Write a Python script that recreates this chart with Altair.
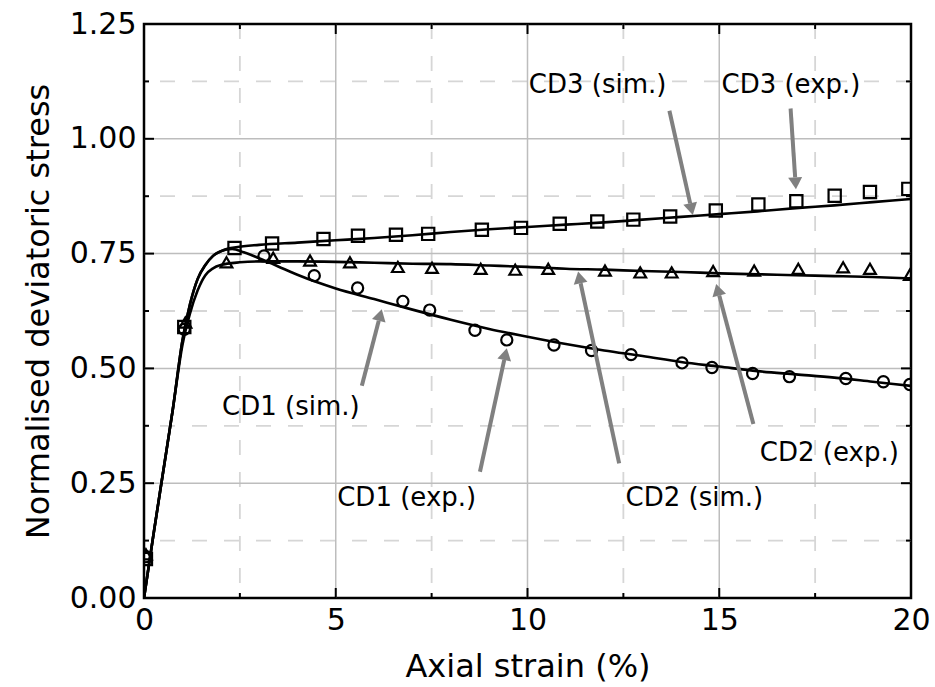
import math
import altair as alt
import pandas as pd

# ---------------- data ----------------
cd1_exp_x = [0.05, 1.05, 3.13, 4.44, 5.57, 6.75, 7.45, 8.63, 9.46, 10.69, 11.67, 12.70,
             14.03, 14.81, 15.87, 16.83, 18.30, 19.28, 19.97]
cd1_exp_y = [0.090, 0.585, 0.745, 0.702, 0.675, 0.646, 0.627, 0.583, 0.562, 0.551, 0.539,
             0.530, 0.512, 0.502, 0.489, 0.482, 0.478, 0.471, 0.465]

cd2_exp_x = [0.05, 1.08, 2.15, 3.37, 4.33, 5.37, 6.62, 7.51, 8.78, 9.68, 10.54, 12.02,
             12.94, 13.76, 14.84, 15.91, 17.06, 18.23, 18.93, 19.97]
cd2_exp_y = [0.095, 0.600, 0.731, 0.741, 0.735, 0.731, 0.721, 0.719, 0.717, 0.715, 0.717,
             0.713, 0.709, 0.709, 0.712, 0.713, 0.717, 0.720, 0.717, 0.704]

cd3_exp_x = [0.05, 1.05, 2.36, 3.34, 4.68, 5.58, 6.57, 7.41, 8.81, 9.83, 10.84, 11.82,
             12.76, 13.72, 14.91, 16.02, 17.01, 18.01, 18.93, 19.93]
cd3_exp_y = [0.085, 0.590, 0.762, 0.772, 0.782, 0.789, 0.791, 0.793, 0.802, 0.806, 0.815,
             0.820, 0.824, 0.831, 0.844, 0.857, 0.864, 0.876, 0.884, 0.891]

cd1_sim_x = [0, 0.25, 0.5, 0.75, 1.0, 1.2, 1.4, 1.6, 1.8, 2.0, 2.3, 2.6, 3.0, 3.5, 4.0,
             4.5, 5, 6, 7, 8, 9, 10, 11, 12, 13, 14, 15, 16, 17, 18, 19, 20]
cd1_sim_y = [0, 0.14, 0.275, 0.41, 0.56, 0.64, 0.695, 0.725, 0.745, 0.755, 0.760, 0.753,
             0.740, 0.722, 0.704, 0.688, 0.674, 0.651, 0.628, 0.606, 0.586, 0.569, 0.553,
             0.539, 0.527, 0.514, 0.504, 0.494, 0.487, 0.480, 0.471, 0.462]

cd2_sim_x = [0, 0.25, 0.5, 0.75, 1.0, 1.2, 1.4, 1.6, 1.8, 2.0, 2.5, 3, 4, 5, 6, 7, 8, 9,
             10, 11, 12, 13, 14, 15, 16, 17, 18, 19, 20]
cd2_sim_y = [0, 0.14, 0.275, 0.41, 0.55, 0.62, 0.67, 0.703, 0.718, 0.725, 0.731, 0.733,
             0.733, 0.732, 0.730, 0.728, 0.727, 0.724, 0.721, 0.717, 0.715, 0.712, 0.710,
             0.707, 0.705, 0.703, 0.701, 0.699, 0.696]

cd3_sim_x = [0, 0.25, 0.5, 0.75, 1.0, 1.2, 1.4, 1.6, 1.8, 2.0, 2.2, 2.4, 3, 4, 5, 6, 7, 8,
             9, 10, 11, 12, 13, 14, 15, 16, 17, 18, 19, 20]
cd3_sim_y = [0, 0.14, 0.275, 0.41, 0.56, 0.64, 0.695, 0.725, 0.745, 0.755, 0.761, 0.764,
             0.769, 0.774, 0.779, 0.784, 0.790, 0.797, 0.803, 0.808, 0.813, 0.818, 0.824,
             0.830, 0.836, 0.842, 0.849, 0.855, 0.862, 0.869]

ann_text = ["CD3 (sim.)", "CD3 (exp.)", "CD1 (sim.)", "CD1 (exp.)", "CD2 (sim.)", "CD2 (exp.)"]
ann_tx = [11.83, 16.87, 3.83, 6.85, 14.35, 17.87]
ann_ty = [1.117, 1.117, 0.417, 0.217, 0.217, 0.315]
arrow_tail_x = [13.70, 16.86, 5.68, 8.76, 12.39, 15.89]
arrow_tail_y = [1.061, 1.066, 0.462, 0.275, 0.293, 0.379]
arrow_tip_x = [14.31, 17.00, 6.20, 9.46, 11.32, 14.92]
arrow_tip_y = [0.834, 0.890, 0.629, 0.544, 0.711, 0.684]

x_major = [0, 5, 10, 15, 20]
x_minor = [2.5, 7.5, 12.5, 17.5]
y_major = [0, 0.25, 0.5, 0.75, 1.0, 1.25]
y_minor = [0.125, 0.375, 0.625, 0.875, 1.125]

# ---------------- layout ----------------
W, H = 767, 574
XMAX, YMAX = 20.0, 1.25
FONT = "DejaVu Sans"
XT = "Axial strain (%)"
YT = "Normalised deviatoric stress"
xs = alt.Scale(domain=[0, XMAX], nice=False, zero=False)
ys = alt.Scale(domain=[0, YMAX], nice=False, zero=False)
x_axis = alt.Axis(values=x_major, format="d", labelPadding=7, labelFlush=False,
                  labelOverlap=False, titleY=78, titleBaseline="alphabetic")
y_axis = alt.Axis(values=y_major, format=".2f", labelPadding=8, labelFlush=False,
                  labelOverlap=False, titleX=-96, titleY=H / 2, titleAngle=270,
                  titleAlign="center", titleBaseline="alphabetic")


def X(f):
    return alt.X(f, scale=xs, title=XT, axis=x_axis)


def Y(f):
    return alt.Y(f, scale=ys, title=YT, axis=y_axis)


# tables
exp_df = pd.concat([
    pd.DataFrame({"x": cd1_exp_x, "y": cd1_exp_y, "s": "CD1"}),
    pd.DataFrame({"x": cd2_exp_x, "y": cd2_exp_y, "s": "CD2"}),
    pd.DataFrame({"x": cd3_exp_x, "y": cd3_exp_y, "s": "CD3"}),
])
sim_df = pd.concat([
    pd.DataFrame({"x": cd1_sim_x, "y": cd1_sim_y, "s": "CD1"}),
    pd.DataFrame({"x": cd2_sim_x, "y": cd2_sim_y, "s": "CD2"}),
    pd.DataFrame({"x": cd3_sim_x, "y": cd3_sim_y, "s": "CD3"}),
])

sx, sy = W / XMAX, H / YMAX
HEAD = 12.0
rows = []
for t, tx, ty, hx, hy in zip(ann_text, arrow_tail_x, arrow_tail_y, arrow_tip_x, arrow_tip_y):
    dxp, dyp = (hx - tx) * sx, (hy - ty) * sy
    L = math.hypot(dxp, dyp)
    ang = math.degrees(math.atan2(dxp, dyp)) % 360
    ex = hx - dxp / L * HEAD / sx
    ey = hy - dyp / L * HEAD / sy
    rows.append({"t": t, "tx": tx, "ty": ty, "hx": hx, "hy": hy, "ex": ex, "ey": ey, "ang": ang})
arr_df = pd.DataFrame(rows)
lab_df = pd.DataFrame({"t": ann_text, "x": ann_tx, "y": ann_ty})

# ---------------- layers ----------------
GRID_MAJ = "#bdbdbd"
GRID_MIN = "#d6d6d6"

grid_vmaj = alt.Chart(pd.DataFrame({"v": x_major[1:-1]})).mark_rule(
    color=GRID_MAJ, strokeWidth=1.5).encode(x=X("v:Q"))
grid_vmin = alt.Chart(pd.DataFrame({"v": x_minor})).mark_rule(
    color=GRID_MIN, strokeWidth=1.8, strokeDash=[15, 17]).encode(x=X("v:Q"))
grid_hmaj = alt.Chart(pd.DataFrame({"v": y_major[1:-1]})).mark_rule(
    color=GRID_MAJ, strokeWidth=1.5).encode(y=Y("v:Q"))
grid_hmin = alt.Chart(pd.DataFrame({"v": y_minor})).mark_rule(
    color=GRID_MIN, strokeWidth=1.8, strokeDash=[15, 17]).encode(y=Y("v:Q"))

lines = alt.Chart(sim_df).mark_line(
    color="black", strokeWidth=2.6, interpolate="monotone", clip=True).encode(
    x=X("x:Q"), y=Y("y:Q"), detail="s:N")

points = alt.Chart(exp_df).mark_point(
    filled=False, color="black", strokeWidth=2.2, opacity=1, clip=True).encode(
    x=X("x:Q"),
    y=Y("y:Q"),
    shape=alt.Shape("s:N", scale=alt.Scale(domain=["CD1", "CD2", "CD3"],
                                           range=["circle", "triangle-up", "square"]), legend=None),
    size=alt.Size("s:N", scale=alt.Scale(domain=["CD1", "CD2", "CD3"], range=[125, 150, 125]),
                  legend=None),
)

shafts = alt.Chart(arr_df).mark_rule(color="#808080", strokeWidth=4).encode(
    x=X("tx:Q"), y=Y("ty:Q"), x2="ex:Q", y2="ey:Q")
heads = alt.Chart(arr_df).mark_point(
    shape="M0,0 L0.5,0.857 L-0.5,0.857 Z", filled=True, color="#808080", opacity=1,
    size=784, strokeWidth=0).encode(
    x=X("hx:Q"), y=Y("hy:Q"), angle=alt.Angle("ang:Q", scale=None))

labels = alt.Chart(lab_df).mark_text(
    font=FONT, fontSize=26, color="black", align="center", baseline="middle").encode(
    x=X("x:Q"), y=Y("y:Q"), text="t:N")


# inward ticks on all four sides
def xticks(vals, length):
    d = pd.DataFrame({"v": vals})
    b = alt.Chart(d).mark_rule(color="black", strokeWidth=2).encode(
        x=X("v:Q"), y=alt.value(H), y2=alt.value(H - length))
    t = alt.Chart(d).mark_rule(color="black", strokeWidth=2).encode(
        x=X("v:Q"), y=alt.value(0), y2=alt.value(length))
    return [b, t]


def yticks(vals, length):
    d = pd.DataFrame({"v": vals})
    l = alt.Chart(d).mark_rule(color="black", strokeWidth=2).encode(
        y=Y("v:Q"), x=alt.value(0), x2=alt.value(length))
    r = alt.Chart(d).mark_rule(color="black", strokeWidth=2).encode(
        y=Y("v:Q"), x=alt.value(W), x2=alt.value(W - length))
    return [l, r]


tick_layers = xticks(x_major, 10) + xticks(x_minor, 5) + yticks(y_major, 10) + yticks(y_minor, 5)

chart = alt.layer(
    grid_vmin, grid_hmin, grid_vmaj, grid_hmaj,
    lines, points, shafts, heads, labels, *tick_layers
).properties(
    width=W, height=H,
    autosize=alt.AutoSizeParams(type="none"),
    padding={"left": 144, "top": 24, "right": 24, "bottom": 89},
    background="white",
).configure_view(
    stroke="black", strokeWidth=2.5
).configure_axis(
    labelFont=FONT, titleFont=FONT, labelFontSize=30, titleFontSize=32,
    labelColor="black", titleColor="black", titleFontWeight="normal",
    domain=False, ticks=False, grid=False,
)

chart.save("out.html", embed_options={"renderer": "svg", "actions": False})
